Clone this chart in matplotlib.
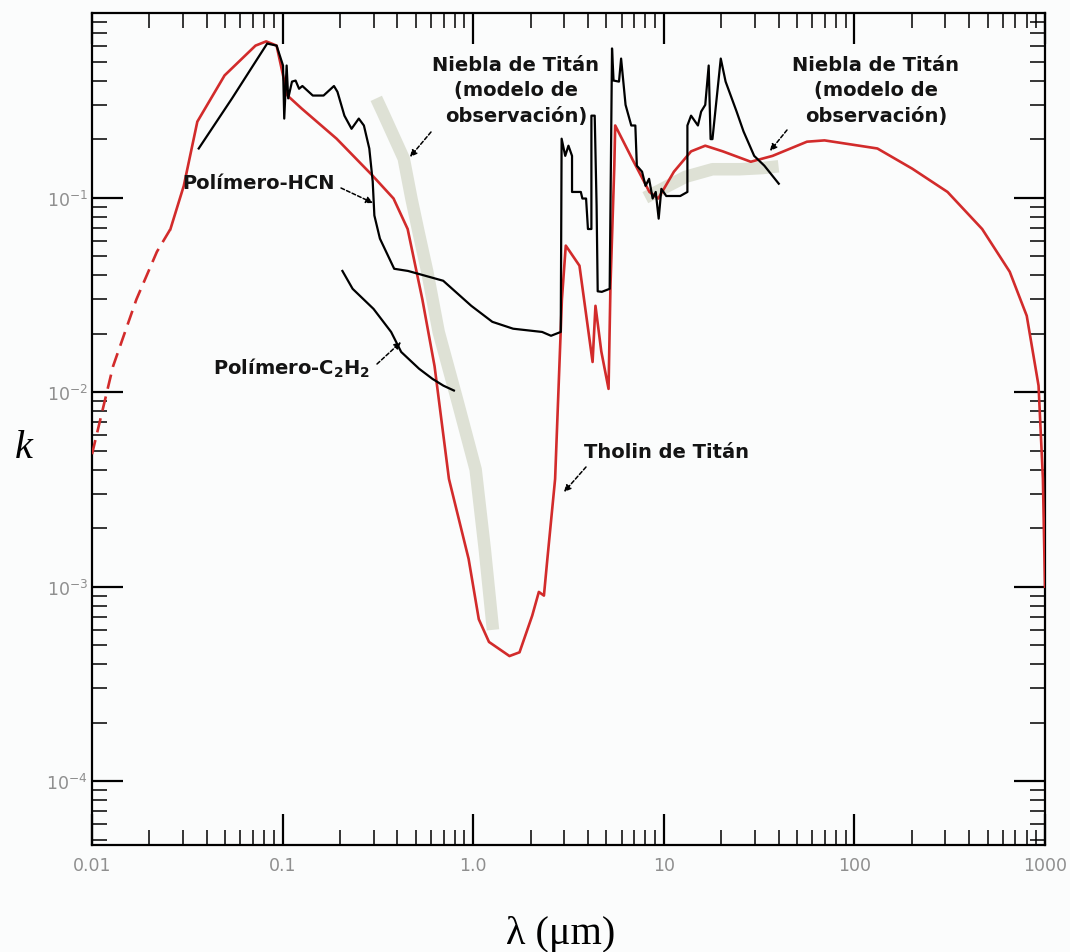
import numpy as np
import matplotlib
matplotlib.use('Agg')
import matplotlib.pyplot as plt
from matplotlib.ticker import LogLocator, FixedLocator, FixedFormatter, NullFormatter

plt.rcParams['mathtext.default'] = 'regular'

# ---------------- data ----------------
# Tholin de Titán (red) : dashed extrapolated part
tholin_dash_x = [0.010, 0.0129, 0.0171, 0.0219, 0.0258]
tholin_dash_k = [4.8e-3, 0.0136, 0.030, 0.0527, 0.069]
# Tholin de Titán (red) : measured part
tholin_x = [0.0258, 0.0303, 0.0357, 0.0496, 0.0721, 0.082, 0.093, 0.106, 0.126, 0.192,
            0.296, 0.382, 0.453, 0.541, 0.627, 0.746, 0.946, 1.07, 1.21, 1.55,
            1.75, 2.04, 2.21, 2.35, 2.45, 2.69, 2.92, 3.06, 3.61, 4.23,
            4.38, 4.70, 5.13, 5.25, 5.50, 5.56, 6.81, 8.41, 9.35, 11.3,
            13.9, 16.5, 20.4, 28.6, 37.2, 56.4, 69.7, 106, 132, 201,
            308, 468, 653, 802, 925, 975, 1000]
tholin_k = [0.069, 0.115, 0.246, 0.425, 0.605, 0.636, 0.605, 0.335, 0.287, 0.201,
            0.130, 0.099, 0.069, 0.030, 0.0136, 3.58e-3, 1.39e-3, 6.8e-4, 5.2e-4, 4.4e-4,
            4.6e-4, 7.1e-4, 9.4e-4, 9.0e-4, 1.39e-3, 3.58e-3, 0.030, 0.0567, 0.0447, 0.0143,
            0.0278, 0.0162, 0.0104, 0.0352, 0.146, 0.235, 0.159, 0.107, 0.099, 0.136,
            0.173, 0.185, 0.173, 0.153, 0.164, 0.194, 0.197, 0.185, 0.179, 0.141,
            0.107, 0.069, 0.0416, 0.0247, 0.0108, 3.6e-3, 1.0e-3]

# Polímero-HCN (black)
hcn_x = [0.0363, 0.0543, 0.070, 0.083, 0.093, 0.1005, 0.102, 0.105, 0.107, 0.112,
         0.117, 0.122, 0.127, 0.144, 0.164, 0.186, 0.194, 0.211, 0.23, 0.251,
         0.267, 0.285, 0.297, 0.303, 0.324, 0.385, 0.455, 0.696, 0.977, 1.26,
         1.62, 2.30, 2.56, 2.88, 2.91, 3.04, 3.16, 3.30, 3.30, 3.67,
         3.74, 3.91, 4.0, 4.17, 4.17, 4.34, 4.44, 4.50, 4.73, 5.2,
         5.35, 5.45, 5.82, 5.97, 6.3, 6.75, 7.09, 7.22, 7.69, 8.02,
         8.37, 8.74, 9.07, 9.40, 9.71, 10.3, 12.2, 13.3, 13.3, 13.9,
         15.1, 15.7, 16.5, 17.2, 17.6, 18.0, 19.9, 21.1, 24.1, 26.2,
         29.8, 33.7, 40.1]
hcn_k = [0.179, 0.324, 0.478, 0.62, 0.605, 0.478, 0.255, 0.478, 0.324, 0.395,
         0.40, 0.363, 0.375, 0.335, 0.335, 0.375, 0.35, 0.264, 0.226, 0.255,
         0.235, 0.179, 0.121, 0.081, 0.0616, 0.0431, 0.042, 0.0374, 0.0278, 0.023,
         0.0212, 0.0204, 0.0195, 0.0204, 0.201, 0.164, 0.185, 0.164, 0.107, 0.107,
         0.099, 0.099, 0.069, 0.069, 0.264, 0.264, 0.091, 0.033, 0.0328, 0.034,
         0.585, 0.40, 0.395, 0.519, 0.30, 0.235, 0.235, 0.146, 0.136, 0.115,
         0.125, 0.099, 0.107, 0.078, 0.111, 0.102, 0.102, 0.107, 0.235, 0.264,
         0.235, 0.277, 0.30, 0.478, 0.20, 0.20, 0.519, 0.395, 0.277, 0.219,
         0.164, 0.146, 0.118]

# Polímero-C2H2 (black)
c2h2_x = [0.206, 0.233, 0.30, 0.371, 0.419, 0.52, 0.612, 0.698, 0.792]
c2h2_k = [0.042, 0.034, 0.0268, 0.0204, 0.0161, 0.0132, 0.0117, 0.0108, 0.0102]

# Niebla de Titán (modelo de observación) - light hatched bands
haze_uv_x = [0.31, 0.334, 0.432, 0.474, 0.516, 0.574, 0.659, 0.822, 1.03, 1.15, 1.27]
haze_uv_k = [0.324, 0.277, 0.159, 0.099, 0.067, 0.0417, 0.0204, 9.2e-3, 4.0e-3, 1.56e-3, 6.0e-4]
haze_ir_x = [8.0, 10.0, 13.0, 18.0, 25.0, 33.0, 40.0]
haze_ir_k = [0.100, 0.112, 0.128, 0.140, 0.140, 0.142, 0.145]

x_tick_vals = [0.01, 0.1, 1.0, 10, 100, 1000]
x_tick_labels = ['0.01', '0.1', '1.0', '10', '100', '1000']
y_tick_vals = [1e-4, 1e-3, 1e-2, 1e-1]
y_tick_labels = ['$10^{-4}$', '$10^{-3}$', '$10^{-2}$', '$10^{-1}$']

# ---------------- figure ----------------
W, H = 1070, 953
fig = plt.figure(figsize=(W / 100, H / 100), dpi=100, facecolor='#fbfcfc')
ax = fig.add_axes([92 / W, 1 - 846 / H, (1045 - 92) / W, (846 - 14) / H])
ax.set_facecolor('#fbfcfc')
ax.set_xscale('log')
ax.set_yscale('log')
ax.set_xlim(0.01, 1000)
ax.set_ylim(4.7e-5, 0.89)

red = '#d22b2b'
band = '#d9ddcf'

ax.plot(haze_uv_x, haze_uv_k, color=band, lw=9, alpha=0.85, solid_capstyle='butt', zorder=1)
ax.plot(haze_ir_x, haze_ir_k, color=band, lw=9, alpha=0.85, solid_capstyle='butt', zorder=1)

ax.plot(tholin_dash_x, tholin_dash_k, color=red, lw=1.9, dashes=(5.5, 3), zorder=3)
ax.plot(tholin_x, tholin_k, color=red, lw=1.9, zorder=3)
ax.plot(hcn_x, hcn_k, color='black', lw=1.6, zorder=4)
ax.plot(c2h2_x, c2h2_k, color='black', lw=1.6, zorder=4)

# ticks
ax.xaxis.set_major_locator(FixedLocator(x_tick_vals))
ax.xaxis.set_major_formatter(FixedFormatter(x_tick_labels))
ax.xaxis.set_minor_locator(LogLocator(base=10, subs=np.arange(2, 10), numticks=30))
ax.xaxis.set_minor_formatter(NullFormatter())
ax.yaxis.set_major_locator(FixedLocator(y_tick_vals))
ax.yaxis.set_major_formatter(FixedFormatter(y_tick_labels))
ax.yaxis.set_minor_locator(LogLocator(base=10, subs=np.arange(2, 10), numticks=30))
ax.yaxis.set_minor_formatter(NullFormatter())
ax.tick_params(which='both', direction='in', top=True, right=True, colors='black',
               labelcolor='#8f8f8f', labelsize=12.5)
ax.tick_params(which='major', length=22, width=1.6)
ax.tick_params(which='minor', length=11, width=1.1)
ax.tick_params(axis='x', which='major', pad=8)
ax.tick_params(axis='y', which='major', pad=3)
for s in ax.spines.values():
    s.set_linewidth(1.6)

# axis labels
fig.text(24 / W, 1 - 449 / H, 'k', fontsize=29, style='italic', family='Liberation Serif',
         ha='center', va='center')
fig.text(561 / W, 1 - 935 / H, 'λ (μm)', fontsize=29, family='Liberation Serif',
         ha='center', va='center')

# annotations
lab = dict(fontsize=14, fontweight='bold', family='DejaVu Sans', color='#141414',
           transform=ax.transAxes, ha='center', va='center', linespacing=1.45, zorder=6)

def axf(px, py):
    return ((px - 92) / 953, (846 - py) / 832)

ax.text(*axf(516, 91), 'Niebla de Titán\n(modelo de\nobservación)', **lab)
ax.text(*axf(876, 91), 'Niebla de Titán\n(modelo de\nobservación)', **lab)
ax.text(*axf(258, 184), 'Polímero-HCN', **lab)
ax.text(*axf(292, 368), 'Polímero-C$_2$H$_2$', **lab)
ax.text(*axf(666, 453), 'Tholin de Titán', **lab)

def arrow(tail, tip):
    ax.annotate('', xy=axf(*tip), xytext=axf(*tail), xycoords='axes fraction',
                textcoords='axes fraction',
                arrowprops=dict(arrowstyle='-|>', color='black', lw=1.1, ls=(0, (2.5, 1.5)),
                                mutation_scale=10, shrinkA=0, shrinkB=0), zorder=6)

arrow((431, 133), (410, 158))
arrow((787, 131), (770, 152))
arrow((341, 189), (373, 204))
arrow((377, 365), (401, 343))
arrow((586, 468), (564, 493))

fig.savefig('out.png', dpi=100, facecolor=fig.get_facecolor())
